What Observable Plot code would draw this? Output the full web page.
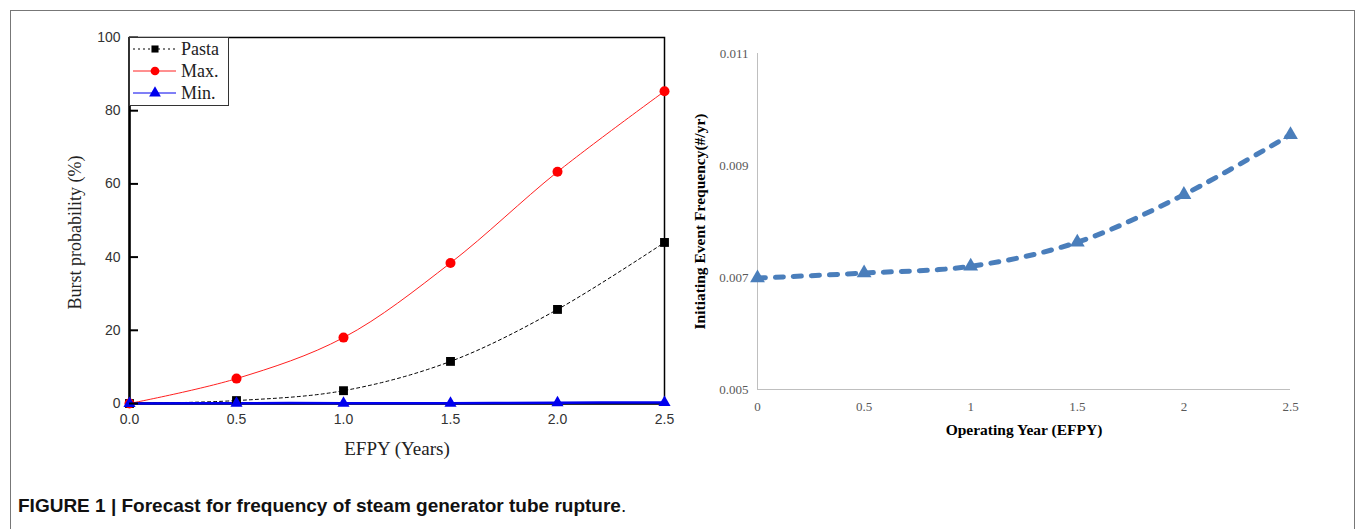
<!DOCTYPE html>
<html><head><meta charset="utf-8">
<script src="https://cdn.jsdelivr.net/npm/d3@7"></script>
<script src="https://cdn.jsdelivr.net/npm/@observablehq/plot@0.6"></script>
<style>
body{margin:0;background:#fff;}
#fig{position:relative;width:1355px;height:529px;overflow:hidden;background:#fff;}
#box{position:absolute;left:10px;top:10px;width:1345px;height:560px;border:1px solid #777;box-sizing:border-box;}
#left{position:absolute;left:0;top:0;}
#right{position:absolute;left:680px;top:0;}
#legend{position:absolute;left:129px;top:37px;}
#caption{position:absolute;left:18px;top:495px;font:19px "Liberation Sans",Arial,sans-serif;color:#111;white-space:nowrap;}
svg{overflow:visible;}
</style></head><body>
<div id="fig"><div id="box"></div><div id="left"></div><div id="right"></div><div id="legend"></div>
<div id="caption"><b>FIGURE 1 | Forecast for frequency of steam generator tube rupture</b>.</div></div>
<script>
// ---- Left panel data ----
const efpy = [0, 0.5, 1.0, 1.5, 2.0, 2.5];
const pasta = [0, 0.8, 3.5, 11.5, 25.7, 44.0];
const maxProb = [0, 6.8, 18.0, 38.4, 63.3, 85.3];
const minProb = [0, 0.1, 0.1, 0.1, 0.2, 0.3];
const leftXTicks = [0, 0.5, 1.0, 1.5, 2.0, 2.5];
const leftYTicks = [0, 20, 40, 60, 80, 100];
const seriesNames = ["Pasta", "Max.", "Min."];

// ---- Right panel data ----
const operatingYear = [0, 0.5, 1, 1.5, 2, 2.5];
const ieFrequency = [0.00699, 0.00708, 0.00720, 0.00763, 0.00848, 0.00955];
const rightXTicks = [0, 0.5, 1, 1.5, 2, 2.5];
const rightYTicks = [0.005, 0.007, 0.009, 0.011];

const leftRows = efpy.map((x, i) => ({x, pasta: pasta[i], max: maxProb[i], min: minProb[i]}));
const rightRows = operatingYear.map((x, i) => ({x, y: ieFrequency[i]}));

const LW = 680, LH = 470, LML = 129, LMR = 16, LMT = 37, LMB = 67;
const xPerPx = 2.5 / (LW - LML - LMR);
const left = Plot.plot({
  width: LW, height: LH, marginLeft: LML, marginRight: LMR, marginTop: LMT, marginBottom: LMB,
  x: {domain: [0, 2.5]}, y: {domain: [0, 100]},
  style: {background: "transparent", color: "#333"},
  marks: [
    Plot.axisX(leftXTicks, {tickSize: 0, tickPadding: 11, tickFormat: d3.format(".1f"), label: null,
      fontFamily: "Liberation Sans", fontSize: 14, fill: "#333"}),
    Plot.axisY(leftYTicks, {tickSize: 0, tickPadding: 9, label: null,
      fontFamily: "Liberation Sans", fontSize: 14, fill: "#333"}),
    Plot.frame({stroke: "black", strokeWidth: 1.5}),
    Plot.ruleX([0], {stroke: "black", strokeWidth: 2.5}),
    Plot.ruleY([0], {stroke: "black", strokeWidth: 2.5}),
    Plot.line(leftRows, {x: "x", y: "pasta", curve: "catmull-rom", stroke: "black", strokeWidth: 1, strokeDasharray: "3,3"}),
    Plot.line(leftRows, {x: "x", y: "max", curve: "catmull-rom", stroke: "#ff2020", strokeWidth: 1}),
    Plot.line(leftRows, {x: "x", y: "min", curve: "catmull-rom", stroke: "#0000ee", strokeWidth: 2.5}),
    Plot.dot(leftRows, {x: "x", y: "pasta", symbol: "square", r: 5, fill: "black"}),
    Plot.dot(leftRows, {x: "x", y: "max", symbol: "circle", r: 5, fill: "#ff0000"}),
    Plot.dot(leftRows, {x: "x", y: "min", symbol: "triangle", r: 4.5, fill: "#0000ee"}),
    // inward-pointing y ticks
    Plot.ruleY(leftYTicks, {y: d => d, x1: 0, x2: 9 * xPerPx, stroke: "black", strokeWidth: 2}),
    Plot.text(["Burst probability (%)"], {text: d => d, frameAnchor: "left", dx: -54, dy: 12, rotate: -90,
      textAnchor: "middle", lineAnchor: "middle",
      fontFamily: "Liberation Serif", fontSize: 18, fill: "#222"}),
    Plot.text(["EFPY (Years)"], {text: d => d, frameAnchor: "bottom", dy: 45, lineAnchor: "middle",
      fontFamily: "Liberation Serif", fontSize: 19, fill: "#222"})
  ]
});
document.getElementById("left").appendChild(left);

// Legend
const lg = d3.select("#legend").append("svg").attr("width", 101).attr("height", 70);
lg.append("rect").attr("x", 0.5).attr("y", 0.5).attr("width", 99).attr("height", 68)
  .attr("fill", "white").attr("stroke", "#333").attr("stroke-width", 1);
const legendStyles = [
  {stroke: "black", dash: "2,3", width: 1, sym: d3.symbolSquare, size: 50, fill: "black"},
  {stroke: "#ff2020", dash: null, width: 1, sym: d3.symbolCircle, size: 60, fill: "#ff0000"},
  {stroke: "#0000ee", dash: null, width: 1, sym: d3.symbolTriangle, size: 60, fill: "#0000ee"}
];
seriesNames.forEach((name, i) => {
  const s = legendStyles[i], cy = 12 + i * 22;
  lg.append("line").attr("x1", 4).attr("x2", 47).attr("y1", cy).attr("y2", cy)
    .attr("stroke", s.stroke).attr("stroke-width", s.width).attr("stroke-dasharray", s.dash);
  lg.append("path").attr("d", d3.symbol(s.sym, s.size)()).attr("transform", `translate(26,${cy})`).attr("fill", s.fill);
  lg.append("text").attr("x", 52).attr("y", cy).attr("dy", "0.35em").text(name)
    .attr("font-family", "Liberation Serif").attr("font-size", 18).attr("fill", "#222");
});

const RW = 640, RH = 470, RML = 77, RMR = 30, RMT = 53, RMB = 81;
const right = Plot.plot({
  width: RW, height: RH, marginLeft: RML, marginRight: RMR, marginTop: RMT, marginBottom: RMB,
  x: {domain: [0, 2.5]}, y: {domain: [0.005, 0.011]},
  style: {background: "transparent"},
  marks: [
    Plot.axisX(rightXTicks, {tickSize: 0, tickPadding: 12, label: null, tickFormat: d => String(d),
      fontFamily: "Liberation Serif", fontSize: 13, fill: "#595959"}),
    Plot.axisY(rightYTicks, {tickSize: 0, tickPadding: 9, label: null, tickFormat: d3.format(".3f"),
      fontFamily: "Liberation Serif", fontSize: 13, fill: "#595959"}),
    Plot.ruleX([0], {stroke: "#bfbfbf", strokeWidth: 1}),
    Plot.ruleY([0.005], {stroke: "#bfbfbf", strokeWidth: 1}),
    Plot.line(rightRows, {x: "x", y: "y", curve: "catmull-rom", stroke: "#4a7ebb", strokeWidth: 5,
      strokeDasharray: "8,10", strokeLinecap: "round"}),
    Plot.dot(rightRows, {x: "x", y: "y", symbol: "triangle", r: 5.5, fill: "#4a7ebb"}),
    Plot.text(["Initiating Event Frequency(#/yr)"], {text: d => d, frameAnchor: "left", dx: -57, rotate: -90,
      textAnchor: "middle", lineAnchor: "middle",
      fontFamily: "Liberation Serif", fontSize: 15.5, fontWeight: "bold", fill: "black"}),
    Plot.text(["Operating Year (EFPY)"], {text: d => d, frameAnchor: "bottom", dy: 41, lineAnchor: "middle",
      fontFamily: "Liberation Serif", fontSize: 15.5, fontWeight: "bold", fill: "black"})
  ]
});
document.getElementById("right").appendChild(right);
</script>
</body></html>
